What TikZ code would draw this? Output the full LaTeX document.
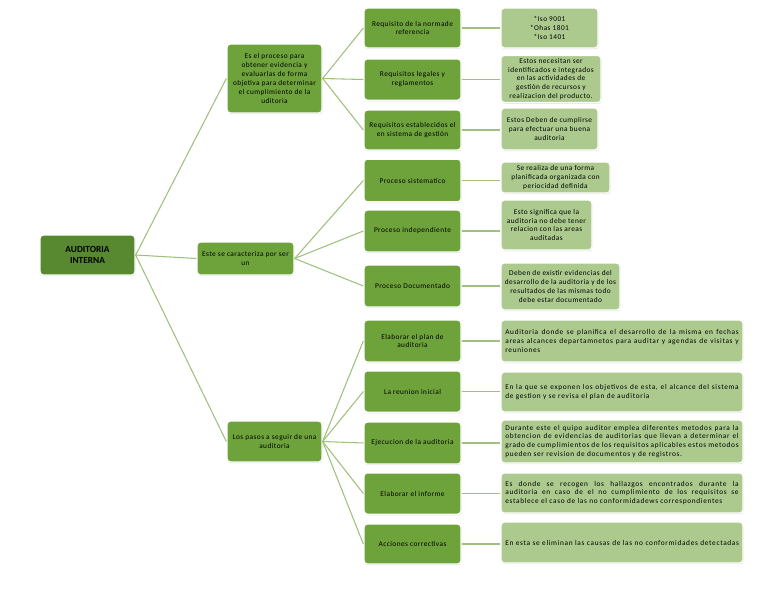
\documentclass[tikz,border=0pt]{standalone}
\usepackage{fontspec}
\setmainfont{Carlito}
\newfontfamily\espaciada[LetterSpace=9]{Carlito}
\newfontfamily\suelta[LetterSpace=6]{Carlito}
\newcommand\singuion{\hyphenpenalty=10000\relax\exhyphenpenalty=10000\relax}
\usetikzlibrary{shadows}

\definecolor{raiz}{RGB}{88,137,48}
\definecolor{nivel}{RGB}{110,163,60}
\definecolor{hoja}{RGB}{172,202,142}
\definecolor{rama}{RGB}{160,192,125}

\tikzset{
  caja/.style={draw=white, line width=1pt, rounded corners=2.5pt, align=center,
    inner sep=2pt, font=\fontsize{5.5}{6.7}\suelta,
    drop shadow={shadow xshift=0.4pt, shadow yshift=-0.9pt, opacity=0.25}},
  raizbox/.style={caja, fill=raiz, font=\fontsize{7}{8}\selectfont\bfseries},
  nivelbox/.style={caja, fill=nivel},
  hojabox/.style={caja, fill=hoja},
  anchabox/.style={caja, fill=hoja, align=justify, text width=175pt,
    minimum width=181.5pt, font=\fontsize{5.5}{6.7}\espaciada\singuion},
  rama/.style={draw=rama, line width=0.8pt}
}

\begin{document}
\begin{tikzpicture}[x=0.75pt,y=0.75pt,yscale=-1,xscale=1]
\useasboundingbox (0,0) rectangle (768,594);

% raiz
\node[raizbox, minimum width=71.25pt, minimum height=30pt] (raiz) at (87.5,255) {AUDITORIA\\INTERNA};

% primer nivel
\node[nivelbox, minimum width=71.25pt, minimum height=51.75pt] (defin) at (274.5,78.5)
  {Es el proceso para\\obtener evidencia y\\evaluarlas de forma\\objetiva para determinar\\el cumplimiento de la\\uditoria};
\node[nivelbox, minimum width=72.75pt, minimum height=24.75pt] (carac) at (245.5,258.5)
  {Este se caracteriza por ser\\un};
\node[nivelbox, minimum width=71.25pt, minimum height=30.75pt] (pasos) at (274.5,441.5)
  {Los pasos a seguir de una\\auditoria};

% segundo nivel
\node[nivelbox, minimum width=72.75pt, minimum height=30pt] (norma) at (412.5,28) {Requisito de la normade\\referencia};
\node[nivelbox, minimum width=72.75pt, minimum height=31pt] (legal) at (412.5,79.5) {Requisitos legales y\\reglamentos};
\node[nivelbox, minimum width=72.75pt, minimum height=30pt] (gest) at (412.5,130) {Requisitos establecidos el\\en sistema de gestión};
\node[nivelbox, minimum width=72.75pt, minimum height=32pt] (sist) at (412.5,180.5) {Proceso sistematico};
\node[nivelbox, minimum width=72.75pt, minimum height=31.5pt] (indep) at (412.5,231) {Proceso independiente};
\node[nivelbox, minimum width=72.75pt, minimum height=31.5pt] (docu) at (412.5,286) {Proceso Documentado};
\node[nivelbox, minimum width=72.75pt, minimum height=31.5pt] (plan) at (412.5,341) {Elaborar el plan de\\auditoria};
\node[nivelbox, minimum width=72.75pt, minimum height=31pt] (reun) at (412.5,391.5) {La reunion inicial};
\node[nivelbox, minimum width=72.75pt, minimum height=31.5pt] (ejec) at (412.5,443) {Ejecucion de la auditoria};
\node[nivelbox, minimum width=72.75pt, minimum height=31pt] (infor) at (412.5,493.5) {Elaborar el informe};
\node[nivelbox, minimum width=72.75pt, minimum height=30pt] (acci) at (412.5,544) {Acciones correctivas};

% tercer nivel
\node[hojabox, minimum width=72.75pt, minimum height=30pt] (isos) at (549.5,28) {*Iso 9001\\*Ohas 1801\\*Iso 1401};
\node[hojabox, minimum width=75pt, minimum height=31.5pt] (ident) at (551,79) {Estos necesitan ser\\identificados e integrados\\en las actividades de\\gestión de recursos y\\realizacion del producto.};
\node[hojabox, minimum width=72.75pt, minimum height=31.5pt] (cumpl) at (549.5,129) {Estos Deben de cumplirse\\para efectuar una buena\\auditoria};
\node[hojabox, minimum width=81.75pt, minimum height=23.25pt] (forma) at (555.5,177.5) {Se realiza de una forma\\planificada organizada con\\periocidad definida};
\node[hojabox, minimum width=68.25pt, minimum height=37.5pt] (signi) at (546.5,225) {Esto significa que la\\auditoria no debe tener\\relacion con las areas\\auditadas};
\node[hojabox, minimum width=89.25pt, minimum height=35.25pt] (evid) at (560.5,286.5) {Deben de existir evidencias del\\desarrollo de la auditoria y de los\\resultados de las mismas todo\\debe estar documentado};
\node[anchabox, minimum height=31.5pt] (fech) at (622,341) {Auditoria donde se planifica el desarrollo de la misma en fechas areas alcances departamnetos para auditar y agendas de visitas y reuniones};
\node[anchabox, minimum height=30pt] (expo) at (622,392) {En la que se exponen los objetivos de esta, el alcance del sistema de gestion y se revisa el plan de auditoria};
\node[anchabox, minimum height=32.25pt] (metod) at (622,441.5) {Durante este el quipo auditor emplea diferentes metodos para la obtencion de evidencias de auditorias que llevan a determinar el grado de cumplimientos de los requisitos aplicables estos metodos pueden ser revision de documentos y de registros.};
\node[anchabox, minimum height=30pt] (halla) at (622,493) {Es donde se recogen los hallazgos encontrados durante la\linebreak auditoria en caso de el no cumplimiento de los requisitos se\linebreak establece el caso de las no conformidadews correspondientes};
\node[anchabox, align=center, minimum height=30.75pt] (causa) at (622,542.5) {En esta se eliminan las causas de las no conformidades detectadas};

% conectores
\foreach \b in {defin,carac,pasos}
  \draw[rama] (raiz.east) -- (\b.west);
\foreach \b in {norma,legal,gest}
  \draw[rama] (defin.east) -- (\b.west);
\foreach \b in {sist,indep,docu}
  \draw[rama] (carac.east) -- (\b.west);
\foreach \b in {plan,reun,ejec,infor,acci}
  \draw[rama] (pasos.east) -- (\b.west);
\foreach \a/\b in {norma/isos,legal/ident,gest/cumpl,sist/forma,indep/signi,docu/evid,
                   plan/fech,reun/expo,ejec/metod,infor/halla,acci/causa}
  \draw[rama] (\a.east) -- (\a.east -| \b.west);

\end{tikzpicture}
\end{document}
